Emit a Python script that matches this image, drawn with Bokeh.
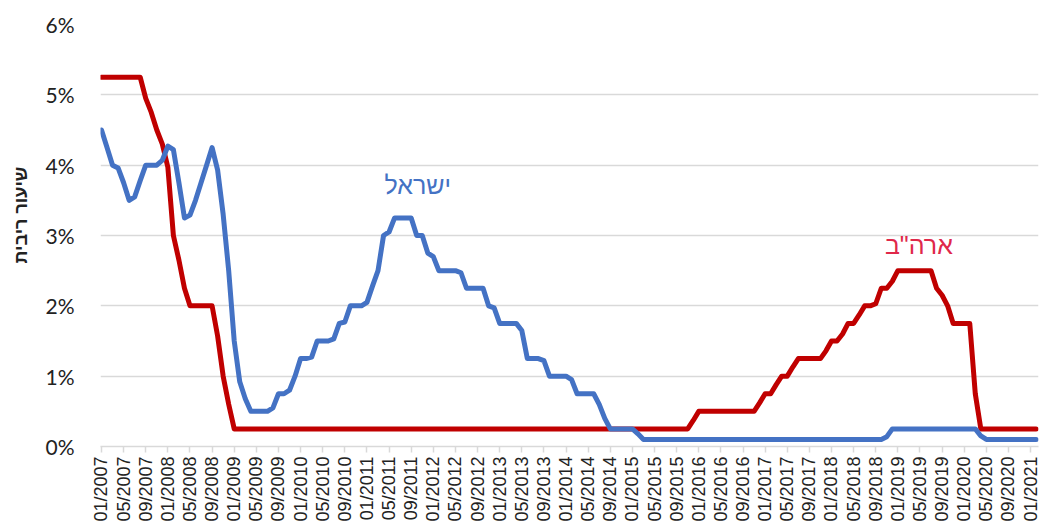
import math
from bokeh.plotting import figure
from bokeh.models import Range1d, FixedTicker, Label, Title
from bokeh.embed import file_html
from bokeh.resources import INLINE

# Monthly policy rates (%), 01/2007 .. 02/2021
israel = [
    4.50, 4.25, 4.00, 3.96, 3.75, 3.50, 3.55, 3.78, 4.00, 4.00, 4.00, 4.07,   # 2007
    4.27, 4.22, 3.75, 3.25, 3.29, 3.50, 3.75, 4.00, 4.25, 3.93, 3.30, 2.50,   # 2008
    1.50, 0.92, 0.68, 0.50, 0.50, 0.50, 0.50, 0.55, 0.75, 0.75, 0.80, 1.00,   # 2009
    1.25, 1.25, 1.27, 1.50, 1.50, 1.50, 1.53, 1.75, 1.77, 2.00, 2.00, 2.00,   # 2010
    2.05, 2.28, 2.50, 3.00, 3.05, 3.25, 3.25, 3.25, 3.25, 3.00, 3.00, 2.75,   # 2011
    2.70, 2.50, 2.50, 2.50, 2.50, 2.47, 2.25, 2.25, 2.25, 2.25, 2.00, 1.97,   # 2012
    1.75, 1.75, 1.75, 1.75, 1.65, 1.25, 1.25, 1.25, 1.22, 1.00, 1.00, 1.00,   # 2013
    1.00, 0.95, 0.75, 0.75, 0.75, 0.75, 0.60, 0.40, 0.25, 0.25, 0.25, 0.25,   # 2014
    0.25, 0.18, 0.10, 0.10, 0.10, 0.10, 0.10, 0.10, 0.10, 0.10, 0.10, 0.10,   # 2015
    0.10, 0.10, 0.10, 0.10, 0.10, 0.10, 0.10, 0.10, 0.10, 0.10, 0.10, 0.10,   # 2016
    0.10, 0.10, 0.10, 0.10, 0.10, 0.10, 0.10, 0.10, 0.10, 0.10, 0.10, 0.10,   # 2017
    0.10, 0.10, 0.10, 0.10, 0.10, 0.10, 0.10, 0.10, 0.10, 0.10, 0.14, 0.25,   # 2018
    0.25, 0.25, 0.25, 0.25, 0.25, 0.25, 0.25, 0.25, 0.25, 0.25, 0.25, 0.25,   # 2019
    0.25, 0.25, 0.25, 0.15, 0.10, 0.10, 0.10, 0.10, 0.10, 0.10, 0.10, 0.10,   # 2020
    0.10, 0.10,                                                               # 2021
]

usa = [
    5.25, 5.25, 5.25, 5.25, 5.25, 5.25, 5.25, 5.25, 4.95, 4.75, 4.50, 4.30,   # 2007
    3.97, 3.00, 2.65, 2.25, 2.00, 2.00, 2.00, 2.00, 2.00, 1.57, 1.00, 0.60,   # 2008
    0.25, 0.25, 0.25, 0.25, 0.25, 0.25, 0.25, 0.25, 0.25, 0.25, 0.25, 0.25,   # 2009
    0.25, 0.25, 0.25, 0.25, 0.25, 0.25, 0.25, 0.25, 0.25, 0.25, 0.25, 0.25,   # 2010
    0.25, 0.25, 0.25, 0.25, 0.25, 0.25, 0.25, 0.25, 0.25, 0.25, 0.25, 0.25,   # 2011
    0.25, 0.25, 0.25, 0.25, 0.25, 0.25, 0.25, 0.25, 0.25, 0.25, 0.25, 0.25,   # 2012
    0.25, 0.25, 0.25, 0.25, 0.25, 0.25, 0.25, 0.25, 0.25, 0.25, 0.25, 0.25,   # 2013
    0.25, 0.25, 0.25, 0.25, 0.25, 0.25, 0.25, 0.25, 0.25, 0.25, 0.25, 0.25,   # 2014
    0.25, 0.25, 0.25, 0.25, 0.25, 0.25, 0.25, 0.25, 0.25, 0.25, 0.25, 0.37,   # 2015
    0.50, 0.50, 0.50, 0.50, 0.50, 0.50, 0.50, 0.50, 0.50, 0.50, 0.50, 0.62,   # 2016
    0.75, 0.75, 0.88, 1.00, 1.00, 1.13, 1.25, 1.25, 1.25, 1.25, 1.25, 1.36,   # 2017
    1.50, 1.50, 1.60, 1.75, 1.75, 1.87, 2.00, 2.00, 2.03, 2.25, 2.25, 2.35,   # 2018
    2.50, 2.50, 2.50, 2.50, 2.50, 2.50, 2.50, 2.25, 2.15, 2.00, 1.75, 1.75,   # 2019
    1.75, 1.75, 0.75, 0.25, 0.25, 0.25, 0.25, 0.25, 0.25, 0.25, 0.25, 0.25,   # 2020
    0.25, 0.25,                                                               # 2021
]

x_tick_labels = [
    "01/2007", "05/2007", "09/2007", "01/2008", "05/2008", "09/2008",
    "01/2009", "05/2009", "09/2009", "01/2010", "05/2010", "09/2010",
    "01/2011", "05/2011", "09/2011", "01/2012", "05/2012", "09/2012",
    "01/2013", "05/2013", "09/2013", "01/2014", "05/2014", "09/2014",
    "01/2015", "05/2015", "09/2015", "01/2016", "05/2016", "09/2016",
    "01/2017", "05/2017", "09/2017", "01/2018", "05/2018", "09/2018",
    "01/2019", "05/2019", "09/2019", "01/2020", "05/2020", "09/2020",
    "01/2021",
]
y_tick_values = [0, 1, 2, 3, 4, 5, 6]
y_tick_labels = ["0%", "1%", "2%", "3%", "4%", "5%", "6%"]

series_names = ["ישראל", 'ארה"ב']
y_title = "שיעור ריבית"

months = list(range(len(israel)))
x_tick_pos = [i * 4 for i in range(len(x_tick_labels))]

p = figure(width=1041, height=525, output_backend="svg", toolbar_location=None,
           x_range=Range1d(-0.18, 169.43), y_range=Range1d(0, 6),
           min_border_left=100, min_border_right=3, min_border_top=24,
           min_border_bottom=79)
p.outline_line_color = None
p.background_fill_color = "white"
p.border_fill_color = "white"

p.line(months, usa, color="#C00000", line_width=5, line_join="round", line_cap="round")
p.line(months, israel, color="#4472C4", line_width=5, line_join="round", line_cap="round")

# x axis
xa = p.xaxis[0]
xa.ticker = FixedTicker(ticks=x_tick_pos)
xa.major_label_overrides = {pos: lab for pos, lab in zip(x_tick_pos, x_tick_labels)}
xa.major_label_orientation = math.pi / 2
xa.axis_line_color = "#D9D9D9"
xa.axis_line_width = 1.5
xa.major_tick_line_color = "#D9D9D9"
xa.major_tick_line_width = 1.5
xa.major_tick_out = 6
xa.major_tick_in = 0
xa.minor_tick_line_color = None
xa.major_label_text_font = "Liberation Sans"
xa.major_label_text_font_size = "18px"
xa.major_label_text_color = "#222222"
xa.major_label_standoff = 4

# y axis
ya = p.yaxis[0]
ya.ticker = FixedTicker(ticks=y_tick_values)
ya.major_label_overrides = {v: lab for v, lab in zip(y_tick_values, y_tick_labels)}
ya.axis_line_color = None
ya.major_tick_line_color = None
ya.minor_tick_line_color = None
ya.major_label_text_font = "Lato"
ya.major_label_text_font_size = "21px"
ya.major_label_text_color = "#222222"
ya.major_label_standoff = 20

p.xgrid.visible = False
p.ygrid.ticker = FixedTicker(ticks=y_tick_values)
p.ygrid.grid_line_color = "#D9D9D9"
p.ygrid.grid_line_width = 1.5

# series labels
p.add_layout(Label(x=57.2, y=3.72, text=series_names[0], text_color="#4472C4",
                   text_font="Liberation Sans", text_font_size="25px",
                   text_align="center", text_baseline="alphabetic"))
p.add_layout(Label(x=147.8, y=2.86, text=series_names[1], text_color="#E0284A",
                   text_font="Liberation Sans", text_font_size="25px",
                   text_align="center", text_baseline="alphabetic"))

# y axis title
p.add_layout(Title(text=y_title, align="left", offset=183, standoff=19,
                   vertical_align="top",
                   text_color="#222222", text_font="Liberation Sans",
                   text_font_size="18px", text_font_style="bold"), "left")

open("out.html", "w").write(file_html(p, INLINE))
